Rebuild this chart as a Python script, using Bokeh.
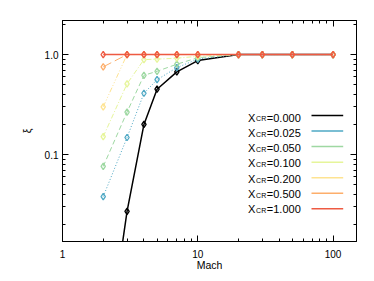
from bokeh.plotting import figure
from bokeh.models import (LogAxis, FixedTicker, PrintfTickFormatter, Label,
                          BoxAnnotation)
from bokeh.embed import file_html
from bokeh.resources import INLINE

# ---- data ----
mach = [2, 3, 4, 5, 7, 10, 20, 30, 50, 100]
xcr_labels = ["0.000", "0.025", "0.050", "0.100", "0.200", "0.500", "1.000"]
xi_000 = [0.0006, 0.027, 0.20, 0.45, 0.67, 0.87, 1.0, 1.0, 1.0, 1.0]
xi_025 = [0.038, 0.148, 0.41, 0.56, 0.74, 0.90, 1.0, 1.0, 1.0, 1.0]
xi_050 = [0.076, 0.266, 0.62, 0.68, 0.80, 0.93, 1.0, 1.0, 1.0, 1.0]
xi_100 = [0.151, 0.51, 0.89, 0.90, 0.92, 0.96, 1.0, 1.0, 1.0, 1.0]
xi_200 = [0.30, 1.0, 1.0, 1.0, 1.0, 1.0, 1.0, 1.0, 1.0, 1.0]
xi_500 = [0.753, 1.0, 1.0, 1.0, 1.0, 1.0, 1.0, 1.0, 1.0, 1.0]
xi_1000 = [1.0, 1.0, 1.0, 1.0, 1.0, 1.0, 1.0, 1.0, 1.0, 1.0]
series = [xi_000, xi_025, xi_050, xi_100, xi_200, xi_500, xi_1000]

x_ticks = [1, 10, 100]
y_ticks = [0.01, 0.1, 1.0]

# ---- styles ----
colors = ["#000000", "#4ea8c4", "#9ed8a2", "#e6f59a", "#fee391", "#fdae6b", "#ee5a42"]
dashes = ["solid", "1 2", "5 3", "5 2 1 2", "5 2 1 2 1 2 1 2", "9 4", "solid"]
widths = [1.5, 1.0, 1.0, 1.0, 1.0, 1.0, 1.5]

FONT = "Liberation Sans"

W, H = 366, 273
FL, FR, FT, FB = 62, 356, 20, 241   # frame edges in page pixels

p = figure(width=W, height=H, x_axis_type="log", y_axis_type="log",
           x_range=(1, 149), y_range=(0.0135, 2.19),
           output_backend="svg", toolbar_location=None,
           min_border_left=FL, min_border_right=W - FR,
           min_border_top=FT, min_border_bottom=H - FB)
p.grid.visible = False
p.outline_line_color = "black"
p.outline_line_width = 1
p.background_fill_color = "white"
p.border_fill_color = "white"

for ys, c, d, w in zip(series, colors, dashes, widths):
    p.line(mach, ys, line_color=c, line_dash=d, line_width=w)
    p.scatter(mach, ys, marker="diamond", size=6.5, line_color=c,
              fill_color=None, line_width=1.3)

x_minor = [m * 10 ** e for e in range(0, 3) for m in range(2, 10)]
y_minor = [m * 10.0 ** e for e in range(-2, 1) for m in range(2, 10)]


def style_axis(ax, labels=True):
    ax.axis_line_color = "black"
    ax.major_tick_in = 6
    ax.major_tick_out = 0
    ax.minor_tick_in = 3
    ax.minor_tick_out = 0
    ax.major_tick_line_color = "black"
    ax.minor_tick_line_color = "black"
    if labels:
        ax.major_label_text_font = FONT
        ax.major_label_text_font_size = "10px"
        ax.major_label_text_color = "black"
        ax.axis_label_text_font = FONT
        ax.axis_label_text_font_size = "10.5px"
        ax.axis_label_text_font_style = "normal"
        ax.axis_label_text_color = "black"
    else:
        ax.major_label_text_font_size = "0px"
        ax.major_label_text_alpha = 0


xa = p.xaxis[0]
xa.ticker = FixedTicker(ticks=x_ticks, minor_ticks=x_minor)
xa.formatter = PrintfTickFormatter(format="%d")
xa.axis_label = "Mach"
xa.major_label_standoff = 8
xa.axis_label_standoff = -2
style_axis(xa)

ya = p.yaxis[0]
ya.ticker = FixedTicker(ticks=y_ticks, minor_ticks=y_minor)
ya.formatter = PrintfTickFormatter(format="%.1f")
ya.axis_label = "ξ"
ya.major_label_standoff = 4
ya.axis_label_standoff = 9
style_axis(ya)

top = LogAxis(ticker=FixedTicker(ticks=x_ticks, minor_ticks=x_minor))
style_axis(top, labels=False)
p.add_layout(top, "above")
right = LogAxis(ticker=FixedTicker(ticks=y_ticks, minor_ticks=y_minor))
style_axis(right, labels=False)
p.add_layout(right, "right")

# ---- legend: screen px relative to the frame's lower-left corner ----
for i, (lab, c) in enumerate(zip(xcr_labels, colors)):
    line_y = 115.0 + 15.55 * i
    p.add_layout(BoxAnnotation(left=311 - FL, right=342.7 - FL,
                               bottom=FB - line_y - 0.75, top=FB - line_y + 0.75,
                               left_units="screen", right_units="screen",
                               bottom_units="screen", top_units="screen",
                               fill_color=c, fill_alpha=1.0, line_color=None))
    base = FB - (117.0 + 15.3 * i)
    p.add_layout(Label(x=247.5 - FL, y=base, x_units="screen", y_units="screen",
                       text="X", text_font=FONT, text_font_size="11px",
                       text_baseline="alphabetic", text_color="black"))
    p.add_layout(Label(x=255.6 - FL, y=base - 1.3, x_units="screen", y_units="screen",
                       text="CR", text_font=FONT, text_font_size="7px",
                       text_baseline="alphabetic", text_color="black"))
    p.add_layout(Label(x=266.3 - FL, y=base, x_units="screen", y_units="screen",
                       text="=" + lab, text_font=FONT, text_font_size="11px",
                       text_baseline="alphabetic", text_color="black"))

open("out.html", "w").write(file_html(p, INLINE))
